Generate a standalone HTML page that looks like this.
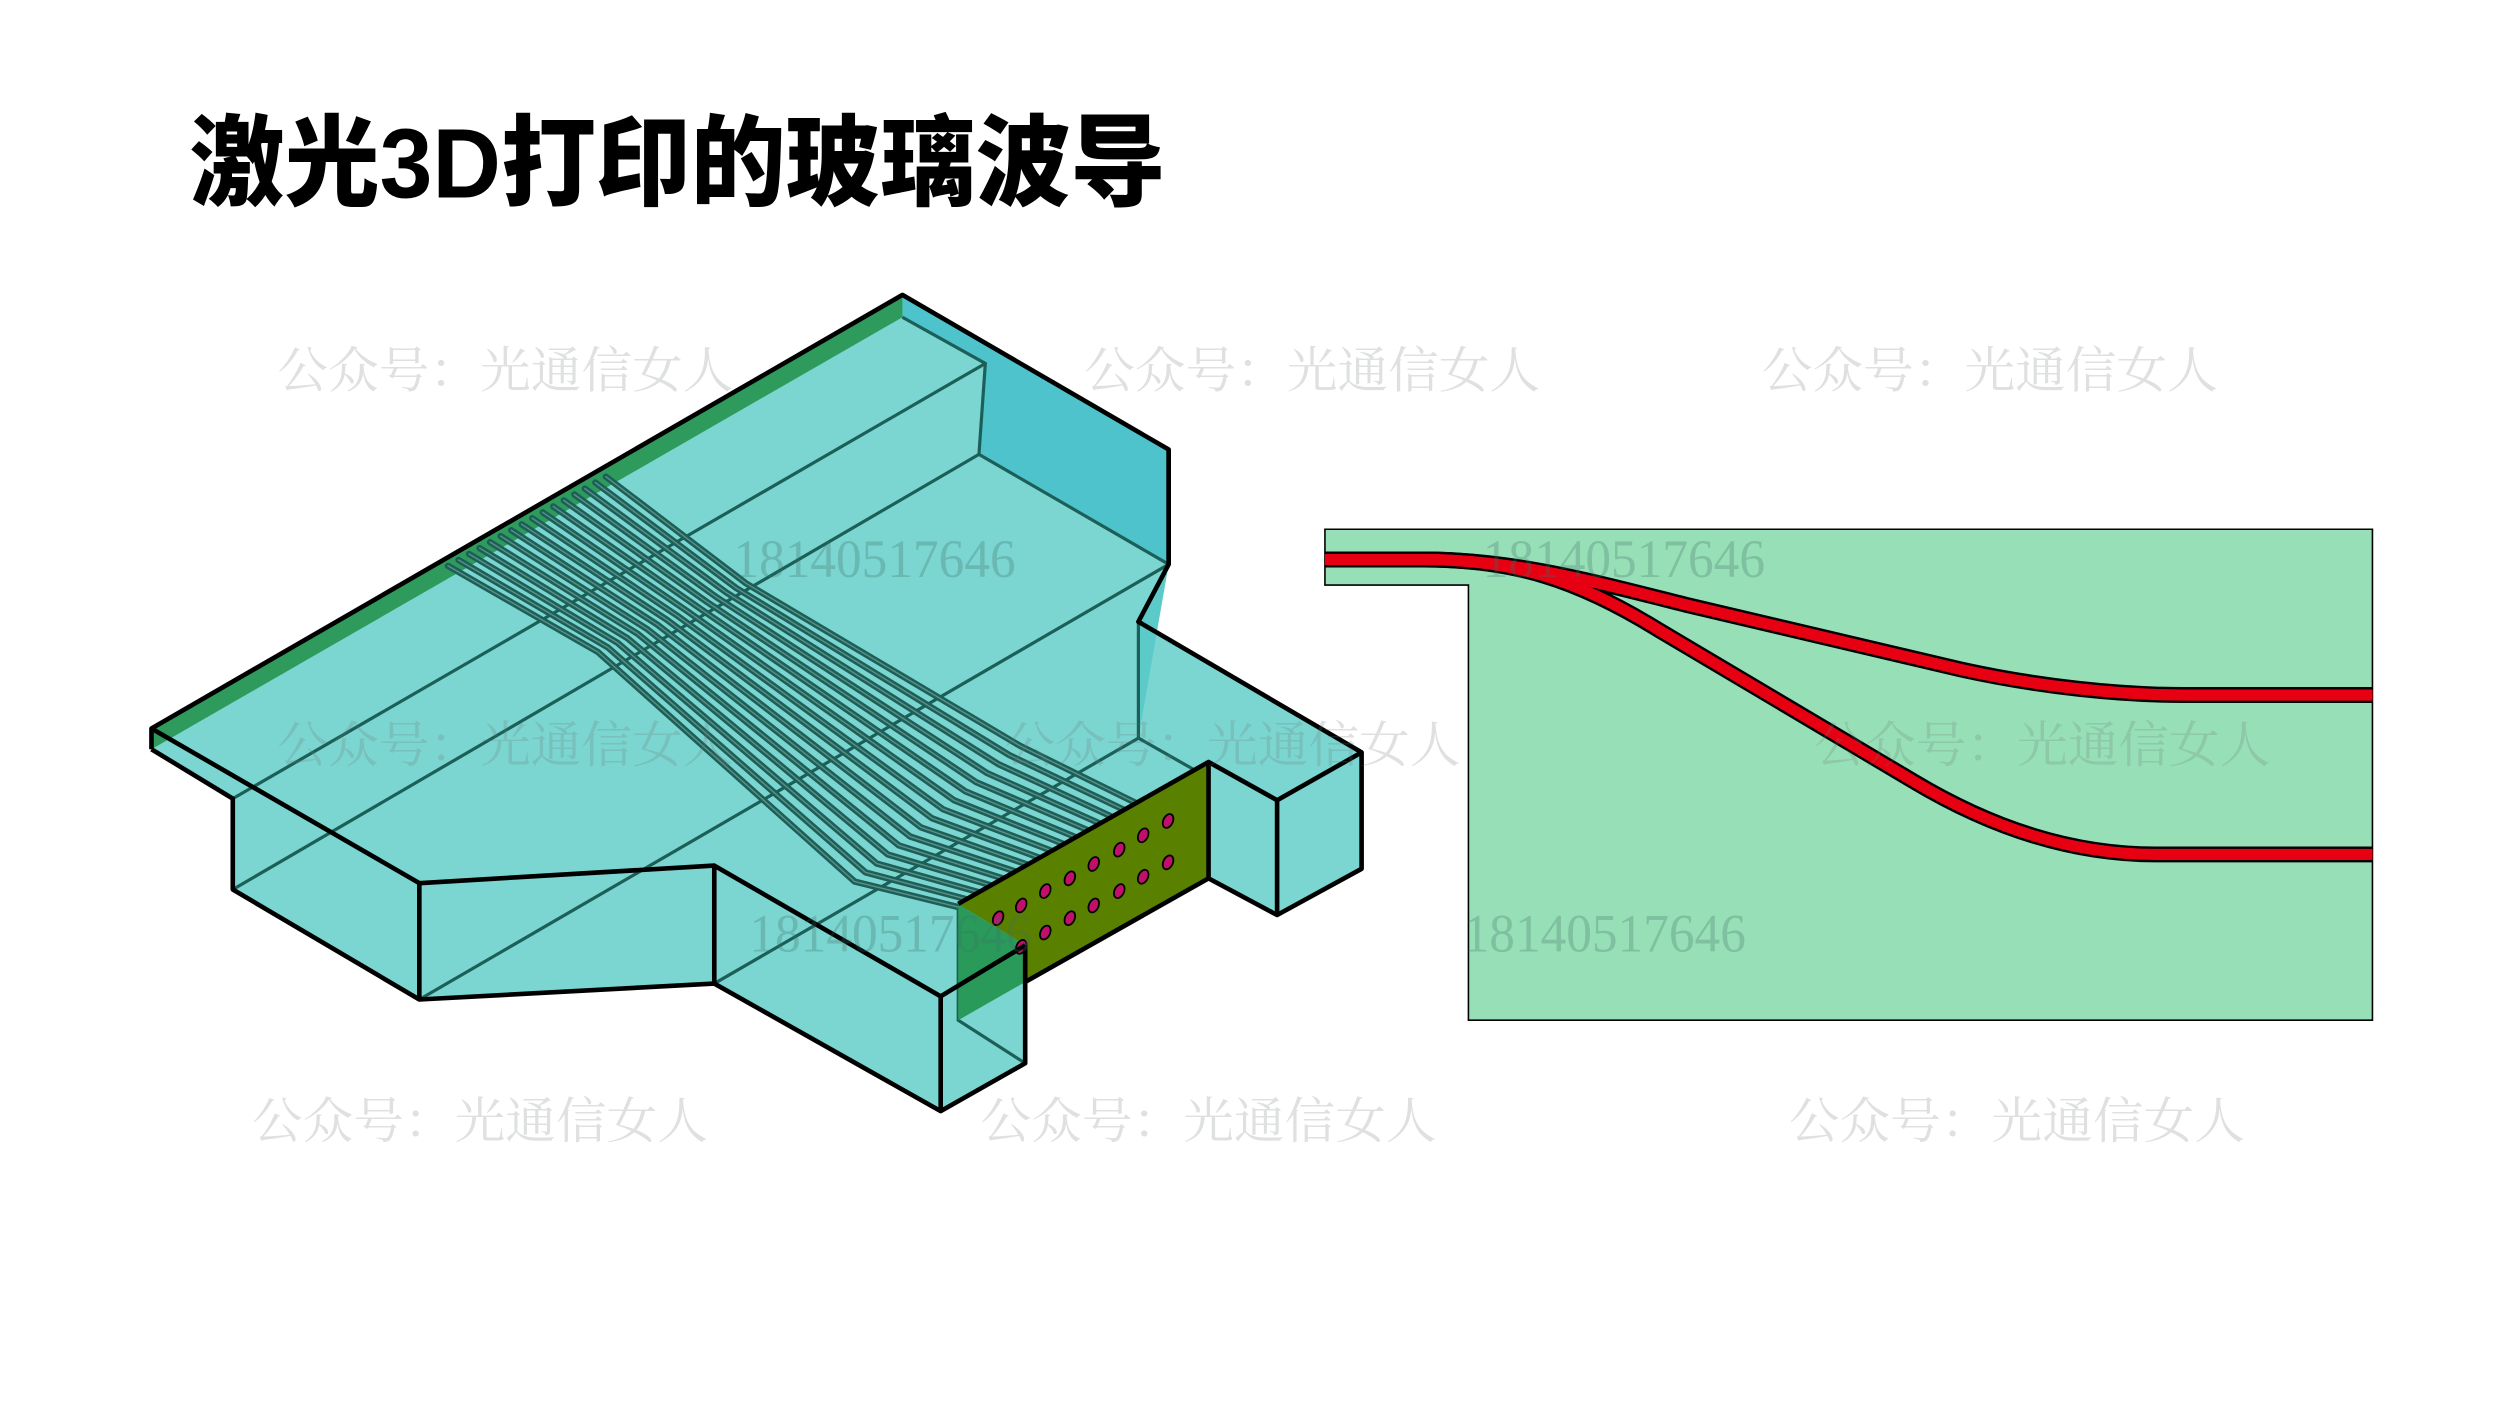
<!DOCTYPE html>
<html><head><meta charset="utf-8"><style>
html,body{margin:0;padding:0;background:#fff;width:2500px;height:1406px;overflow:hidden}
svg{display:block}
</style></head><body>
<svg width="2500" height="1406" viewBox="0 0 1568 882" preserveAspectRatio="none" xmlns="http://www.w3.org/2000/svg">
<text x="119" y="124" font-family="'Liberation Sans','Noto Sans CJK SC',sans-serif" font-weight="900" font-size="62" textLength="612" lengthAdjust="spacingAndGlyphs" fill="#000">激光3D打印的玻璃波导</text>

<!-- 3D body -->
<polygon points="95,457 566,185 733,282 733,354 714,390 854,472 854,545 801,574 758,551 643,616 643,667 590,697 448,617 263,627 146,558 146,501 95,470" fill="#7bd5d0"/>
<polygon points="566,185 733,282 733,354 614,285 618,228 566,199" fill="#4ec3cc"/>
<polygon points="733,354 714,390 714,463" fill="#5ccac8"/>
<polygon points="95,457 566,185 566,199 95,470" fill="#2e9a5c"/>

<g stroke="#1b5f58" stroke-width="2" fill="none">
<polyline points="566,199 618,228 614,285 733,354"/>
<line x1="618" y1="228" x2="146" y2="501"/>
<line x1="614" y1="285" x2="146" y2="558"/>
<line x1="733" y1="354" x2="263" y2="627"/>
<line x1="714" y1="463" x2="448" y2="617"/>
<line x1="714" y1="390" x2="714" y2="463"/>
<line x1="714" y1="463" x2="758" y2="488"/>
<polyline points="601,567 601,640 643,667"/>
</g>

<!-- waveguides -->
<g fill="none" stroke-linejoin="round" stroke-linecap="round">
<g stroke="#1b5f58" stroke-width="4">
<path d="M281,355 L375,409 L536,553 L605,570"/><path d="M287.6,351.3 L381.2,406.1 L542.9,547.3 L612.3,565.7"/><path d="M294.2,347.5 L387.4,403.3 L549.9,541.7 L619.7,561.3"/><path d="M300.8,343.8 L393.6,400.4 L556.8,536.0 L627.0,557.0"/><path d="M307.4,340.1 L399.8,397.5 L563.7,530.3 L634.3,552.7"/><path d="M314.0,336.3 L406.0,394.7 L570.7,524.7 L641.7,548.3"/><path d="M320.6,332.6 L412.2,391.8 L577.6,519.0 L649.0,544.0"/><path d="M327.2,328.9 L418.4,388.9 L584.5,513.3 L656.3,539.7"/><path d="M333.8,325.1 L424.6,386.1 L591.5,507.7 L663.7,535.3"/><path d="M340.4,321.4 L430.8,383.2 L598.4,502.0 L671.0,531.0"/><path d="M347.0,317.7 L437.0,380.3 L605.3,496.3 L678.3,526.7"/><path d="M353.6,313.9 L443.2,377.5 L612.3,490.7 L685.7,522.3"/><path d="M360.2,310.2 L449.4,374.6 L619.2,485.0 L693.0,518.0"/><path d="M366.8,306.5 L455.6,371.7 L626.1,479.3 L700.3,513.7"/><path d="M373.4,302.7 L461.8,368.9 L633.1,473.7 L707.7,509.3"/><path d="M380,299 L468,366 L640,468 L715,505"/>
</g>
<g stroke="#5a8f86" stroke-width="0.9">
<path d="M281,355 L375,409 L536,553 L605,570"/><path d="M287.6,351.3 L381.2,406.1 L542.9,547.3 L612.3,565.7"/><path d="M294.2,347.5 L387.4,403.3 L549.9,541.7 L619.7,561.3"/><path d="M300.8,343.8 L393.6,400.4 L556.8,536.0 L627.0,557.0"/><path d="M307.4,340.1 L399.8,397.5 L563.7,530.3 L634.3,552.7"/><path d="M314.0,336.3 L406.0,394.7 L570.7,524.7 L641.7,548.3"/><path d="M320.6,332.6 L412.2,391.8 L577.6,519.0 L649.0,544.0"/><path d="M327.2,328.9 L418.4,388.9 L584.5,513.3 L656.3,539.7"/><path d="M333.8,325.1 L424.6,386.1 L591.5,507.7 L663.7,535.3"/><path d="M340.4,321.4 L430.8,383.2 L598.4,502.0 L671.0,531.0"/><path d="M347.0,317.7 L437.0,380.3 L605.3,496.3 L678.3,526.7"/><path d="M353.6,313.9 L443.2,377.5 L612.3,490.7 L685.7,522.3"/><path d="M360.2,310.2 L449.4,374.6 L619.2,485.0 L693.0,518.0"/><path d="M366.8,306.5 L455.6,371.7 L626.1,479.3 L700.3,513.7"/><path d="M373.4,302.7 L461.8,368.9 L633.1,473.7 L707.7,509.3"/><path d="M380,299 L468,366 L640,468 L715,505"/>
</g>
</g>

<!-- panel -->
<polygon points="601,567 758,478 758,551 643,616 643,593" fill="#5a8000"/>
<polygon points="601,567 643,593 643,616 601,640" fill="#2a9a5a"/>
<g fill="#c0106a" stroke="#000" stroke-width="1.1">
<ellipse cx="626" cy="576" rx="3" ry="4.6" transform="rotate(25 626 576)"/>
<ellipse cx="640.5" cy="568" rx="3" ry="4.6" transform="rotate(25 640.5 568)"/>
<ellipse cx="655.6" cy="559" rx="3" ry="4.6" transform="rotate(25 655.6 559)"/>
<ellipse cx="671" cy="551" rx="3" ry="4.6" transform="rotate(25 671 551)"/>
<ellipse cx="686" cy="542" rx="3" ry="4.6" transform="rotate(25 686 542)"/>
<ellipse cx="702" cy="533" rx="3" ry="4.6" transform="rotate(25 702 533)"/>
<ellipse cx="717" cy="524" rx="3" ry="4.6" transform="rotate(25 717 524)"/>
<ellipse cx="732.6" cy="515" rx="3" ry="4.6" transform="rotate(25 732.6 515)"/>
<ellipse cx="640.5" cy="594" rx="3" ry="4.6" transform="rotate(25 640.5 594)"/>
<ellipse cx="655.6" cy="585" rx="3" ry="4.6" transform="rotate(25 655.6 585)"/>
<ellipse cx="671" cy="576" rx="3" ry="4.6" transform="rotate(25 671 576)"/>
<ellipse cx="686" cy="568" rx="3" ry="4.6" transform="rotate(25 686 568)"/>
<ellipse cx="702" cy="559" rx="3" ry="4.6" transform="rotate(25 702 559)"/>
<ellipse cx="717" cy="550" rx="3" ry="4.6" transform="rotate(25 717 550)"/>
<ellipse cx="732.6" cy="541" rx="3" ry="4.6" transform="rotate(25 732.6 541)"/>
</g>

<!-- thick outlines -->
<g stroke="#000" stroke-width="2.9" fill="none" stroke-linejoin="round">
<polyline points="95,470 95,457 566,185 733,282 733,354 714,390 854,472 854,545 801,574 758,551"/>
<polyline points="95,457 263,554 448,543 590,625 643,593"/>
<polyline points="95,470 146,501 146,558 263,627 448,617 590,697 643,667 643,593"/>
<line x1="263" y1="554" x2="263" y2="627"/>
<line x1="448" y1="543" x2="448" y2="617"/>
<line x1="590" y1="625" x2="590" y2="697"/>
<polyline points="601,567 758,478 758,551 643,616"/>
<polyline points="758,478 801,502 854,472"/>
<line x1="801" y1="502" x2="801" y2="574"/>
<line x1="733" y1="282" x2="733" y2="354"/>
</g>

<!-- right panel -->
<polygon points="831,332 1488,332 1488,640 921,640 921,367 831,367" fill="#97dfb6" stroke="#000" stroke-width="1"/>
<g fill="none" stroke-linecap="butt">
<g stroke="#000" stroke-width="10">
<path d="M831,351 L893,351 C950,351 1000,365 1060,380 L1230,420 C1280,431 1330,436 1370,436 L1488,436"/>
<path d="M893,351 C950,351 990,364 1040,395 L1200,490 C1250,520 1300,536 1352,536 L1488,536"/>
</g>
<g stroke="#e60012" stroke-width="7">
<path d="M831,351 L893,351 C950,351 1000,365 1060,380 L1230,420 C1280,431 1330,436 1370,436 L1488,436"/>
<path d="M893,351 C950,351 990,364 1040,395 L1200,490 C1250,520 1300,536 1352,536 L1488,536"/>
</g>
</g>

<!-- watermarks -->
<g font-family="'Noto Serif CJK SC','Liberation Serif',serif" font-size="31" fill="rgba(110,120,120,0.22)">
<text x="174" y="243" textLength="286" lengthAdjust="spacingAndGlyphs">公众号：光通信女人</text>
<text x="680" y="243" textLength="286" lengthAdjust="spacingAndGlyphs">公众号：光通信女人</text>
<text x="1105" y="243" textLength="286" lengthAdjust="spacingAndGlyphs">公众号：光通信女人</text>
<text x="174" y="478" textLength="286" lengthAdjust="spacingAndGlyphs">公众号：光通信女人</text>
<text x="630" y="478" textLength="286" lengthAdjust="spacingAndGlyphs">公众号：光通信女人</text>
<text x="1138" y="478" textLength="286" lengthAdjust="spacingAndGlyphs">公众号：光通信女人</text>
<text x="158" y="714" textLength="286" lengthAdjust="spacingAndGlyphs">公众号：光通信女人</text>
<text x="615" y="714" textLength="286" lengthAdjust="spacingAndGlyphs">公众号：光通信女人</text>
<text x="1122" y="714" textLength="286" lengthAdjust="spacingAndGlyphs">公众号：光通信女人</text>
</g>
<g font-family="'Liberation Serif',serif" font-size="34" fill="rgba(60,110,100,0.28)">
<text x="460" y="362" textLength="177" lengthAdjust="spacingAndGlyphs">18140517646</text>
<text x="930" y="362" textLength="177" lengthAdjust="spacingAndGlyphs">18140517646</text>
<text x="470" y="597" textLength="177" lengthAdjust="spacingAndGlyphs">18140517646</text>
<text x="918" y="597" textLength="177" lengthAdjust="spacingAndGlyphs">18140517646</text>
</g>
</svg>
</body></html>
